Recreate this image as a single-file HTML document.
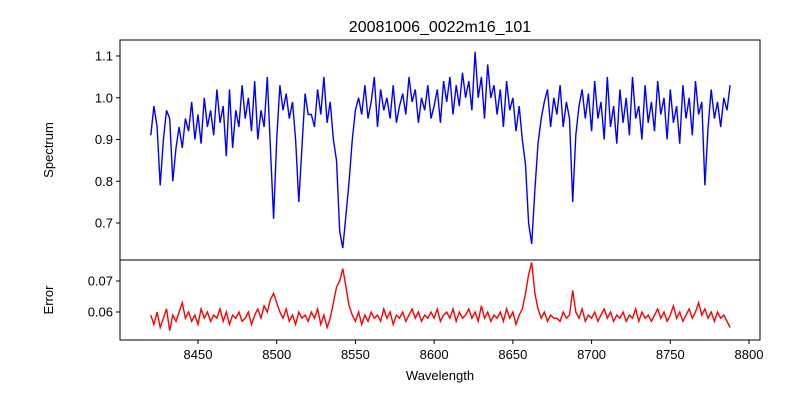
<!DOCTYPE html>
<html><head><meta charset="utf-8"><style>
body{margin:0;background:#fff;font-family:"Liberation Sans","DejaVu Sans",sans-serif}
svg text{font-family:"Liberation Sans","DejaVu Sans",sans-serif;fill:#000}
</style></head><body>
<svg id="c" width="800" height="400" viewBox="0 0 800 400">
<rect width="800" height="400" fill="#fff"/>
<text x="440" y="32" font-size="16" text-anchor="middle">20081006_0022m16_101</text>
<text transform="translate(53,150) rotate(-90)" font-size="13" text-anchor="middle">Spectrum</text>
<text transform="translate(53,300) rotate(-90)" font-size="13" text-anchor="middle">Error</text>
<text x="440" y="380" font-size="13" text-anchor="middle">Wavelength</text>
<g id="g"></g>
</svg>
<script>
const wlStart = 8420, wlStep = 2;
const spectrum = [
0.91,0.98,0.93,0.79,0.90,0.97,0.95,0.80,0.88,0.93,
0.88,0.95,0.92,0.99,0.90,0.96,0.89,1.00,0.93,0.97,
0.91,1.02,0.94,0.98,0.86,1.02,0.88,0.97,0.93,1.03,
0.95,1.00,0.92,1.04,0.90,0.97,0.93,1.05,0.88,0.71,
0.90,1.03,0.97,1.01,0.95,0.99,0.90,0.75,0.88,1.01,
0.96,0.96,0.93,1.02,0.96,1.05,0.94,0.99,0.90,0.85,
0.68,0.64,0.72,0.80,0.90,0.97,1.00,0.96,1.03,0.95,
0.99,1.05,0.93,1.02,0.97,1.00,0.95,1.03,0.94,0.98,
1.01,0.96,1.05,0.99,1.02,0.94,1.00,0.97,1.03,0.95,
0.98,1.02,0.94,1.04,0.99,1.05,0.96,1.03,0.98,1.06,
1.00,1.04,0.97,1.11,1.00,1.05,0.95,1.08,1.00,1.03,
0.96,1.02,0.93,1.04,0.97,1.00,0.92,0.98,0.90,0.84,
0.70,0.65,0.78,0.89,0.95,0.99,1.02,0.93,1.00,0.96,
1.03,0.93,0.99,0.95,0.75,0.91,0.98,1.02,0.95,1.01,
0.92,1.04,0.95,0.99,0.90,1.05,0.93,0.98,0.89,1.02,
0.94,1.00,0.91,1.05,0.95,0.98,0.90,1.03,0.94,0.99,
0.92,1.04,0.96,1.00,0.90,1.02,0.94,0.98,0.89,1.03,
0.95,1.00,0.91,1.04,0.96,0.99,0.79,0.93,1.02,0.95,
0.99,0.93,1.00,0.97,1.03];
const errors = [
.059,.056,.060,.055,.058,.061,.054,.059,.057,.060,
.063,.058,.060,.057,.059,.056,.061,.058,.060,.057,
.059,.058,.061,.057,.060,.056,.059,.058,.060,.057,
.058,.060,.056,.059,.061,.058,.062,.060,.064,.066,
.063,.060,.058,.061,.057,.059,.056,.060,.058,.059,
.057,.060,.058,.061,.056,.059,.055,.058,.063,.068,
.070,.074,.068,.062,.059,.057,.060,.056,.059,.057,
.060,.058,.059,.057,.061,.058,.060,.056,.059,.058,
.060,.057,.059,.061,.058,.060,.057,.059,.058,.060,
.058,.061,.057,.059,.060,.058,.061,.057,.060,.058,
.059,.061,.058,.060,.057,.062,.058,.060,.057,.059,
.058,.060,.057,.061,.058,.060,.056,.059,.061,.066,
.072,.076,.066,.061,.058,.060,.057,.059,.058,.058,
.057,.060,.058,.059,.067,.060,.058,.061,.057,.059,
.058,.060,.057,.059,.061,.058,.060,.057,.059,.058,
.060,.057,.059,.058,.061,.057,.060,.058,.059,.057,
.059,.061,.058,.060,.057,.059,.062,.058,.060,.057,
.059,.061,.058,.060,.063,.059,.061,.058,.060,.057,
.060,.058,.059,.057,.055];
const xTicks = [8450,8500,8550,8600,8650,8700,8750,8800];
const specTicks = [0.7,0.8,0.9,1.0,1.1];
const errTicks = [0.06,0.07];

const NS = "http://www.w3.org/2000/svg";
const g = document.getElementById('g');
const L=120,R=760,T1=40,B1=260,B2=340;
const x = v => 198 + (v-8450)*(551/350);
const yS = v => 56 + (1.1-v)*417.5;
const yE = v => 281 + (0.07-v)*3100;
function el(t,a){const e=document.createElementNS(NS,t);for(const k in a)e.setAttribute(k,a[k]);g.appendChild(e);return e;}

let p=el('polyline',{points:spectrum.map((v,i)=>x(wlStart+i*wlStep).toFixed(1)+','+yS(v).toFixed(1)).join(' '),fill:'none',stroke:'#0000ff','stroke-width':1.4});


let q=el('polyline',{points:errors.map((v,i)=>x(wlStart+i*wlStep).toFixed(1)+','+yE(v).toFixed(1)).join(' '),fill:'none',stroke:'#ff0000','stroke-width':1.4});



let f1=el('rect',{x:L,y:T1,width:R-L,height:B1-T1,fill:'none',stroke:'#000','stroke-width':1});


let f2=el('rect',{x:L,y:B1,width:R-L,height:B2-B1,fill:'none',stroke:'#000','stroke-width':1});



specTicks.forEach(v=>{
  el('line',{x1:L-4,x2:L,y1:yS(v),y2:yS(v),stroke:'#000'});
  const t=el('text',{x:L-7,y:yS(v)+4.5,'font-size':13,'text-anchor':'end'});
  t.textContent=v.toFixed(1);
  
  
});
errTicks.forEach(v=>{
  el('line',{x1:L-4,x2:L,y1:yE(v),y2:yE(v),stroke:'#000'});
  const t=el('text',{x:L-7,y:yE(v)+4.5,'font-size':13,'text-anchor':'end'});
  t.textContent=v.toFixed(2);
  
  
});
xTicks.forEach(v=>{
  el('line',{x1:x(v),x2:x(v),y1:B2,y2:B2+4,stroke:'#000'});
  const t=el('text',{x:x(v),y:B2+19,'font-size':13,'text-anchor':'middle'});
  t.textContent=v;
  
  
});
</script>
</body></html>
